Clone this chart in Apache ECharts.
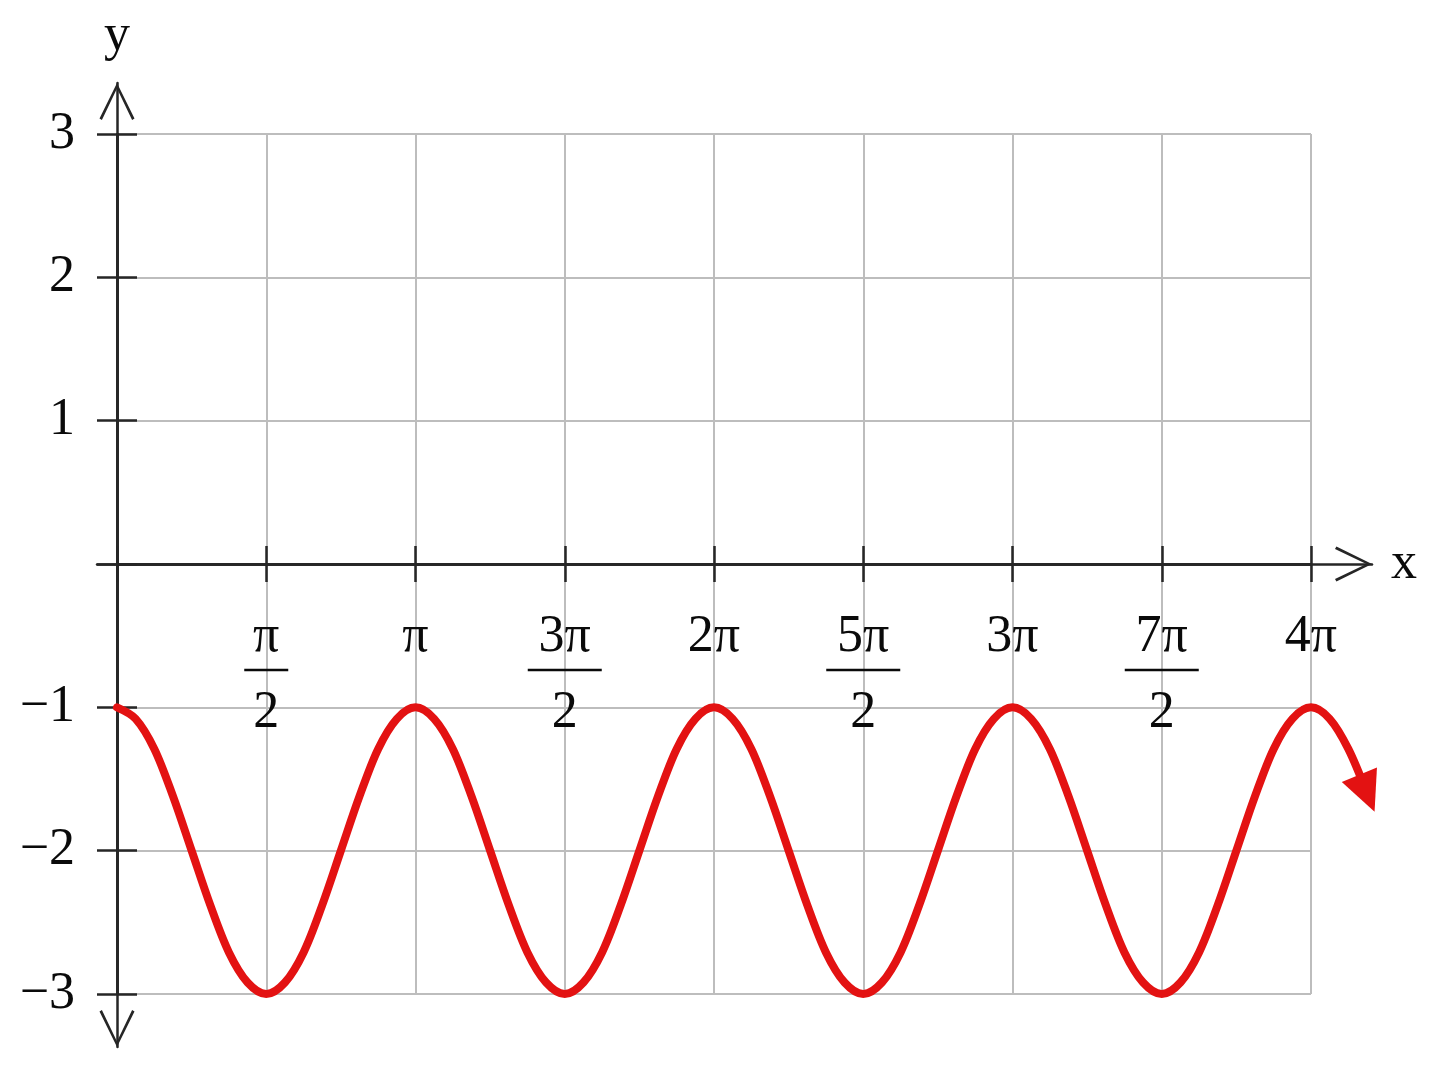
<!DOCTYPE html>
<html><head><meta charset="utf-8">
<script src="https://cdn.jsdelivr.net/npm/echarts@6/dist/echarts.min.js"></script>
<style>html,body{margin:0;padding:0;background:#fff}#c{width:1440px;height:1071px}</style>
</head><body><div id="c"></div>
<script>
// ---- data (x in multiples of π) ----
const xTickValues = [0.5, 1, 1.5, 2, 2.5, 3, 3.5, 4];
const xTickLabels = ['π/2', 'π', '3π/2', '2π', '5π/2', '3π', '7π/2', '4π'];
const yTickValues = [-3, -2, -1, 1, 2, 3];
const yTickLabels = ['−3', '−2', '−1', '1', '2', '3'];
const curveX = [
  0, 0.0625, 0.125, 0.1875, 0.25, 0.3125, 0.375, 0.4375,
  0.5, 0.5625, 0.625, 0.6875, 0.75, 0.8125, 0.875, 0.9375,
  1, 1.0625, 1.125, 1.1875, 1.25, 1.3125, 1.375, 1.4375,
  1.5, 1.5625, 1.625, 1.6875, 1.75, 1.8125, 1.875, 1.9375,
  2, 2.0625, 2.125, 2.1875, 2.25, 2.3125, 2.375, 2.4375,
  2.5, 2.5625, 2.625, 2.6875, 2.75, 2.8125, 2.875, 2.9375,
  3, 3.0625, 3.125, 3.1875, 3.25, 3.3125, 3.375, 3.4375,
  3.5, 3.5625, 3.625, 3.6875, 3.75, 3.8125, 3.875, 3.9375,
  4, 4.0625, 4.125, 4.1875];
const curveY = [
  -1, -1.08, -1.29, -1.62, -2, -2.38, -2.71, -2.92,
  -3, -2.92, -2.71, -2.38, -2, -1.62, -1.29, -1.08,
  -1, -1.08, -1.29, -1.62, -2, -2.38, -2.71, -2.92,
  -3, -2.92, -2.71, -2.38, -2, -1.62, -1.29, -1.08,
  -1, -1.08, -1.29, -1.62, -2, -2.38, -2.71, -2.92,
  -3, -2.92, -2.71, -2.38, -2, -1.62, -1.29, -1.08,
  -1, -1.08, -1.29, -1.62, -2, -2.38, -2.71, -2.92,
  -3, -2.92, -2.71, -2.38, -2, -1.62, -1.29, -1.08,
  -1, -1.08, -1.29, -1.6];

// ---- layout ----
const G = {left: 117, top: 134, right: 1311, bottom: 994};
const X_MIN = 0, X_MAX = 4, Y_MIN = -3, Y_MAX = 3;
const AX = {left: 97, right: 1372, top: 83, bottom: 1047};
const pxX = (G.right - G.left) / (X_MAX - X_MIN);
const pxY = (G.bottom - G.top) / (Y_MAX - Y_MIN);
const ax1XMin = X_MIN - (G.left - AX.left) / pxX;
const ax1XMax = X_MAX + (AX.right - G.right) / pxX;
const ax1YMax = Y_MAX + (G.top - AX.top) / pxY;
const ax1YMin = Y_MIN - (AX.bottom - G.bottom) / pxY;
const offBottom = -(0 - Y_MIN) * pxY;   // move bottom axis up to y = 0
const offTop = -(Y_MAX - 0) * pxY;      // move top axis down to y = 0
const offRight = -(X_MAX - 0) * pxX;    // move right axis to x = 0

const FONT = "'Liberation Serif','DejaVu Serif',serif";
const FS = 52;
const TXT = '#0a0a0a';
const AXC = '#262626';
const GRIDC = '#bdbdbd';
const RED = '#e31212';
const chevron = 'path://M17.5,0 L35,35.6 L32.6,37 L17.5,5.6 L2.4,37 L0,35.6 Z';

function fmtX(v) {
  const i = xTickValues.findIndex(t => Math.abs(t - v) < 1e-6);
  if (i < 0) return '';
  const s = xTickLabels[i];
  if (s.indexOf('/') >= 0) {
    const parts = s.split('/');
    const bar = parts[0].length > 1 ? 'barW' : 'bar';
    return '{num|' + parts[0] + '}\n{' + bar + '|}\n{den|' + parts[1] + '}';
  }
  return '{num|' + s + '}';
}
function fmtY(v) {
  const i = yTickValues.findIndex(t => Math.abs(t - v) < 1e-6);
  return i < 0 ? '' : yTickLabels[i];
}

const curveData = curveX.map((x, i) => {
  const item = {value: [x, curveY[i]]};
  if (i === curveX.length - 1) {
    item.symbol = 'triangle';
    item.symbolSize = [38, 40];
    item.symbolRotate = -157.7;
    item.itemStyle = {color: RED};
  }
  return item;
});

const axLine = {color: AXC, width: 2.5};
const chart = echarts.init(document.getElementById('c'), null, {renderer: 'canvas'});
chart.setOption({
  animation: false,
  backgroundColor: '#fff',
  grid: [
    {left: G.left, top: G.top, width: G.right - G.left, height: G.bottom - G.top,
     containLabel: false, outerBoundsMode: 'none'},
    {left: AX.left, top: AX.top, width: AX.right - AX.left, height: AX.bottom - AX.top,
     containLabel: false, outerBoundsMode: 'none'}
  ],
  xAxis: [
    {
      gridIndex: 0, type: 'value', position: 'bottom', offset: offBottom,
      min: X_MIN, max: X_MAX, interval: 0.5,
      axisLine: {show: true, onZero: false, lineStyle: axLine},
      axisTick: {show: true, length: 18, lineStyle: axLine},
      axisLabel: {
        show: true, margin: 47, formatter: fmtX, color: TXT, fontFamily: FONT, fontSize: FS,
        rich: {
          num: {fontFamily: FONT, fontSize: FS, lineHeight: 52, color: TXT},
          den: {fontFamily: FONT, fontSize: FS, lineHeight: 72, color: TXT},
          bar: {width: 44, height: 0, borderWidth: 2.5, borderColor: TXT, lineHeight: 14},
          barW: {width: 74, height: 0, borderWidth: 2.5, borderColor: TXT, lineHeight: 14}
        }
      },
      splitLine: {show: true, lineStyle: {color: GRIDC, width: 2}}
    },
    {
      gridIndex: 0, type: 'value', position: 'top', offset: offTop,
      min: X_MIN, max: X_MAX, interval: 0.5,
      axisLine: {show: true, onZero: false, lineStyle: axLine},
      axisTick: {show: true, length: 18, lineStyle: axLine},
      axisLabel: {show: false}, splitLine: {show: false}
    },
    {
      gridIndex: 1, type: 'value', min: ax1XMin, max: ax1XMax, z: 4,
      axisLine: {show: true, onZero: true, lineStyle: axLine,
        symbol: ['none', chevron], symbolSize: [35, 37], symbolOffset: [0, -18.5]},
      axisTick: {show: false}, axisLabel: {show: false}, splitLine: {show: false},
      name: 'x', nameLocation: 'end', nameGap: 19,
      nameTextStyle: {fontFamily: FONT, fontSize: FS, color: TXT, verticalAlign: 'middle'}
    }
  ],
  yAxis: [
    {
      gridIndex: 0, type: 'value', position: 'left', min: Y_MIN, max: Y_MAX, interval: 1,
      axisLine: {show: true, onZero: false, lineStyle: axLine},
      axisTick: {show: true, length: 20, lineStyle: axLine},
      axisLabel: {show: true, margin: 42, formatter: fmtY, color: TXT, fontFamily: FONT, fontSize: FS},
      splitLine: {show: true, lineStyle: {color: GRIDC, width: 2}}
    },
    {
      gridIndex: 0, type: 'value', position: 'right', offset: offRight,
      min: Y_MIN, max: Y_MAX, interval: 1,
      axisLine: {show: true, onZero: false, lineStyle: axLine},
      axisTick: {show: true, length: 20, lineStyle: axLine},
      axisLabel: {show: false}, splitLine: {show: false}
    },
    {
      gridIndex: 1, type: 'value', min: ax1YMin, max: ax1YMax, z: 4,
      axisLine: {show: true, onZero: true, lineStyle: axLine,
        symbol: [chevron, chevron], symbolSize: [35, 37], symbolOffset: [18.5, -18.5]},
      axisTick: {show: false}, axisLabel: {show: false}, splitLine: {show: false},
      name: 'y', nameLocation: 'end', nameGap: 21,
      nameTextStyle: {fontFamily: FONT, fontSize: FS, color: TXT}
    }
  ],
  series: [{
    type: 'line', xAxisIndex: 2, yAxisIndex: 2, data: curveData,
    smooth: 0.33, symbol: 'none', showSymbol: true, clip: false, silent: true, z: 10,
    lineStyle: {color: RED, width: 8, cap: 'round', join: 'round'}
  }]
});
</script>
</body></html>
